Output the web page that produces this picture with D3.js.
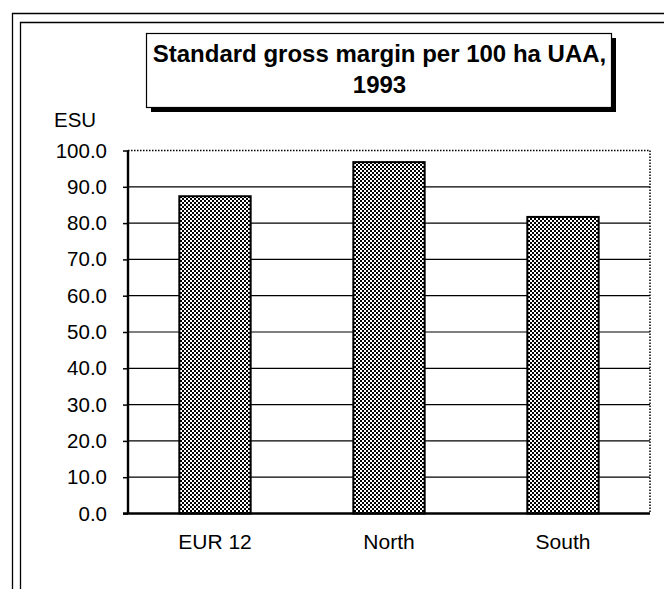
<!DOCTYPE html>
<html><head><meta charset="utf-8">
<script src="https://cdn.jsdelivr.net/npm/d3@7"></script>
<style>body{margin:0;background:#fff}svg{display:block}text{font-family:"Liberation Sans",Arial,sans-serif}</style>
</head><body>
<script>
const categories = ["EUR 12", "North", "South"];
const values = [87.4, 96.8, 81.7];
const yTicks = [0,10,20,30,40,50,60,70,80,90,100];
const titleLines = ["Standard gross margin per 100 ha UAA,", "1993"];
const yLabel = "ESU";

const W = 664, H = 589;
const svg = d3.select("body").append("svg").attr("width", W).attr("height", H);
const defs = svg.append("defs");
const pat = defs.append("pattern").attr("id","chk").attr("width",4).attr("height",4).attr("patternUnits","userSpaceOnUse");
pat.append("rect").attr("width",4).attr("height",4).attr("fill","#fff");
pat.append("rect").attr("x",0).attr("y",0).attr("width",2).attr("height",2).attr("fill","#000");
pat.append("rect").attr("x",2).attr("y",2).attr("width",2).attr("height",2).attr("fill","#000");

// outer frames
svg.append("path").attr("d",`M12.5,${H} V13.5 H${W}`).attr("fill","none").attr("stroke","#000").attr("stroke-width",1.3);
svg.append("path").attr("d",`M20.5,${H} V22.5 H${W}`).attr("fill","none").attr("stroke","#000").attr("stroke-width",1.3);

const m = {l:128, r:650, t:150.5, b:513.5};
const x = d3.scaleBand().domain(categories).range([m.l, m.r]).paddingInner(0.59).paddingOuter(0.295);
const y = d3.scaleLinear().domain([0,100]).range([m.b, m.t]);

// gridlines
svg.append("g").selectAll("line").data(yTicks.filter(d=>d>0 && d<100)).join("line")
  .attr("x1",m.l).attr("x2",m.r).attr("y1",d=>y(d)).attr("y2",d=>y(d))
  .attr("stroke","#000").attr("stroke-width",1.2);
// dotted top & right border
svg.append("path").attr("d",`M${m.l},${y(100)} H${m.r} V${m.b}`).attr("fill","none")
  .attr("stroke","#000").attr("stroke-width",1.5).attr("stroke-dasharray","1.5,1.5");

// bars
svg.append("g").selectAll("rect").data(values).join("rect")
  .attr("x",(d,i)=>x(categories[i])).attr("width",x.bandwidth())
  .attr("y",d=>y(d)).attr("height",d=>y(0)-y(d))
  .attr("fill","url(#chk)").attr("stroke","#000").attr("stroke-width",2);

// y axis
const ya = d3.axisLeft(y).tickValues(yTicks).tickFormat(d3.format(".1f")).tickSize(5).tickPadding(16);
const yg = svg.append("g").attr("transform",`translate(${m.l},0)`).call(ya);
yg.select(".domain").attr("stroke-width",2.4).attr("d",`M0,${m.t}V${m.b}`);
yg.selectAll(".tick line").attr("stroke-width",1.5);
yg.selectAll("text").attr("font-size",20.5).attr("fill","#000").style("font-family","'Liberation Sans',Arial,sans-serif");

// x axis
const xa = d3.axisBottom(x).tickSize(0).tickPadding(21);
const xg = svg.append("g").attr("transform",`translate(0,${m.b})`).call(xa);
xg.select(".domain").attr("stroke-width",2.4).attr("d",`M${m.l-5},0H${m.r}`);
xg.selectAll("text").attr("font-size",21).attr("fill","#000").style("font-family","'Liberation Sans',Arial,sans-serif");

// y label
svg.append("text").attr("x",54).attr("y",127).attr("font-size",20.5).text(yLabel);

// title box with shadow
const tb = {x:146, y:33, w:465, h:74};
svg.append("rect").attr("x",tb.x+5).attr("y",tb.y+5).attr("width",tb.w).attr("height",tb.h).attr("fill","#000");
svg.append("rect").attr("x",tb.x+0.5).attr("y",tb.y+0.5).attr("width",tb.w).attr("height",tb.h).attr("fill","#fff").attr("stroke","#000").attr("stroke-width",1.2);
svg.append("g").selectAll("text").data(titleLines).join("text")
  .attr("x",tb.x+tb.w/2+1).attr("y",(d,i)=>62+i*31).attr("text-anchor","middle")
  .attr("font-size",24).attr("font-weight","bold").text(d=>d);
</script>
</body></html>
